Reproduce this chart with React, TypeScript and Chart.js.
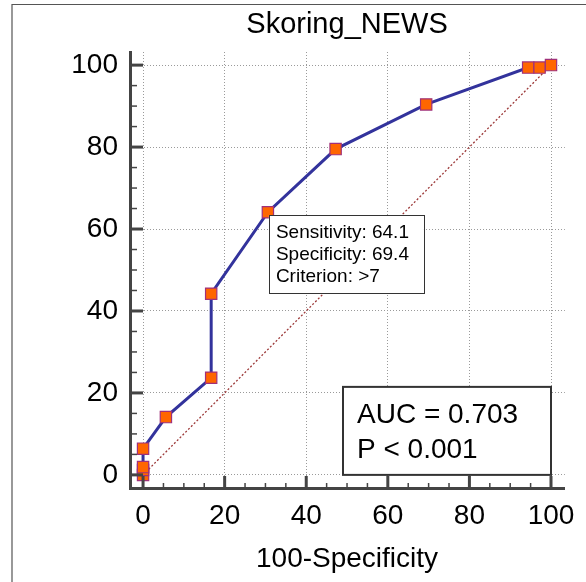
import React, { useEffect, useRef } from "react";
import { Chart, registerables } from "chart.js";

Chart.register(...registerables);

const FONT = "'Liberation Sans', Arial, Helvetica, sans-serif";

const chartTitle = "Skoring_NEWS";
const xAxisTitle = "100-Specificity";
const tickValues = [0, 20, 40, 60, 80, 100];
const minorStep = 5;

// ROC points: 100-Specificity vs Sensitivity
const fpr = [0, 0, 0, 0, 5.6, 16.7, 16.7, 30.6, 47.2, 69.4, 94.4, 97.2, 100];
const tpr = [0, 1.2, 1.9, 6.4, 14.1, 23.7, 44.2, 64.1, 79.5, 90.4, 99.4, 99.4, 100];

const diagX = [0, 100];
const diagY = [0, 100];

const criterionPoint = { x: 30.6, y: 64.1 };
const criterionLines = ["Sensitivity: 64.1", "Specificity: 69.4", "Criterion: >7"];
const aucLines = ["AUC = 0.703", "P < 0.001"];

const decorPlugin = {
  id: "decor",
  beforeDraw(chart: any) {
    const ctx = chart.ctx;
    ctx.save();
    ctx.fillStyle = "#ffffff";
    ctx.fillRect(0, 0, chart.width, chart.height);
    ctx.restore();
  },
  afterDraw(chart: any) {
    const ctx = chart.ctx;
    const xs = chart.scales.x;
    const ys = chart.scales.y;
    const area = chart.chartArea;
    ctx.save();

    // outer frame
    ctx.strokeStyle = "#555555";
    ctx.lineWidth = 1.2;
    ctx.beginPath();
    ctx.moveTo(12, chart.height);
    ctx.lineTo(12, 4.5);
    ctx.lineTo(chart.width, 4.5);
    ctx.stroke();

    // inward tick marks
    ctx.strokeStyle = "#444444";
    for (let v = 0; v <= 100; v += minorStep) {
      const major = v % 20 === 0;
      ctx.lineWidth = major ? 3 : 1.5;
      const py = ys.getPixelForValue(v);
      ctx.beginPath();
      ctx.moveTo(area.left, py);
      ctx.lineTo(area.left + (major ? 13 : 7), py);
      ctx.stroke();
      const px = xs.getPixelForValue(v);
      ctx.beginPath();
      ctx.moveTo(px, area.bottom);
      ctx.lineTo(px, area.bottom - (major ? 12 : 5));
      ctx.stroke();
    }

    // titles
    const cx = (xs.getPixelForValue(0) + xs.getPixelForValue(100)) / 2;
    ctx.fillStyle = "#000000";
    ctx.textAlign = "center";
    ctx.textBaseline = "alphabetic";
    ctx.font = `29px ${FONT}`;
    ctx.fillText(chartTitle, cx, 33);
    ctx.font = `28px ${FONT}`;
    ctx.fillText(xAxisTitle, cx, 567);

    // criterion box
    const bx = xs.getPixelForValue(criterionPoint.x) + 1;
    const by = ys.getPixelForValue(criterionPoint.y) + 3;
    const bw = 155;
    const bh = 78;
    ctx.fillStyle = "#ffffff";
    ctx.fillRect(bx, by, bw, bh);
    ctx.strokeStyle = "#333333";
    ctx.lineWidth = 1;
    ctx.strokeRect(Math.round(bx) + 0.5, Math.round(by) + 0.5, bw, bh);
    ctx.fillStyle = "#000000";
    ctx.textAlign = "left";
    ctx.font = `19px ${FONT}`;
    criterionLines.forEach((t, i) => {
      ctx.fillText(t, bx + 7, by + 23 + i * 22);
    });

    // AUC box
    const ax2 = xs.getPixelForValue(100);
    const ay2 = ys.getPixelForValue(0);
    const aw = 208;
    const ah = 88;
    const ax = ax2 - aw;
    const ay = ay2 - ah;
    ctx.fillStyle = "#ffffff";
    ctx.fillRect(ax, ay, aw, ah);
    ctx.strokeStyle = "#333333";
    ctx.lineWidth = 2;
    ctx.strokeRect(ax, ay, aw, ah);
    ctx.fillStyle = "#000000";
    ctx.font = `28px ${FONT}`;
    aucLines.forEach((t, i) => {
      ctx.fillText(t, ax + 14, ay + 36 + i * 35);
    });

    ctx.restore();
  },
};

export default function App() {
  const canvasRef = useRef<HTMLCanvasElement | null>(null);

  useEffect(() => {
    const canvas = canvasRef.current;
    if (!canvas) return;
    Chart.defaults.font.family = FONT;
    const chart = new Chart(canvas, {
      type: "scatter",
      data: {
        datasets: [
          {
            label: "ROC",
            data: fpr.map((x, i) => ({ x, y: tpr[i] })),
            showLine: true,
            borderColor: "#33339c",
            borderWidth: 3,
            pointStyle: "rect",
            pointRadius: 8,
            pointBackgroundColor: "#ff6600",
            pointBorderColor: "#a0307a",
            pointBorderWidth: 1.2,
            tension: 0,
          },
          {
            label: "Reference",
            data: diagX.map((x, i) => ({ x, y: diagY[i] })),
            showLine: true,
            borderColor: "#9c3838",
            borderWidth: 1.3,
            borderDash: [2, 2],
            pointRadius: 0,
          },
        ],
      },
      options: {
        responsive: false,
        animation: false,
        layout: { padding: { top: 52, right: 20, left: 0, bottom: 0 } },
        plugins: {
          legend: { display: false },
          tooltip: { enabled: false },
          title: { display: false },
        },
        scales: {
          x: {
            type: "linear",
            min: -3.2,
            max: 103.4,
            afterBuildTicks: (scale: any) => {
              scale.ticks = tickValues.map((v) => ({ value: v }));
            },
            afterFit: (scale: any) => {
              scale.height = 94;
            },
            grid: { color: "#9a9a9a", lineWidth: 1, drawTicks: false },
            border: { display: true, color: "#444444", width: 3, dash: [1, 2] },
            ticks: {
              padding: 11,
              color: "#000000",
              font: { size: 28, family: FONT },
              maxRotation: 0,
              autoSkip: false,
            },
          },
          y: {
            type: "linear",
            min: -3.2,
            max: 103.2,
            afterBuildTicks: (scale: any) => {
              scale.ticks = tickValues.map((v) => ({ value: v }));
            },
            afterFit: (scale: any) => {
              scale.width = 130;
            },
            grid: { color: "#9a9a9a", lineWidth: 1, drawTicks: false },
            border: { display: true, color: "#444444", width: 3, dash: [1, 2] },
            ticks: {
              padding: 12,
              color: "#000000",
              font: { size: 28, family: FONT },
              autoSkip: false,
            },
          },
        },
      },
      plugins: [decorPlugin],
    } as any);
    return () => chart.destroy();
  }, []);

  return (
    <div style={{ position: "absolute", left: 0, top: 0, width: 586, height: 582 }}>
      <canvas ref={canvasRef} width={586} height={582} style={{ display: "block" }} />
    </div>
  );
}
